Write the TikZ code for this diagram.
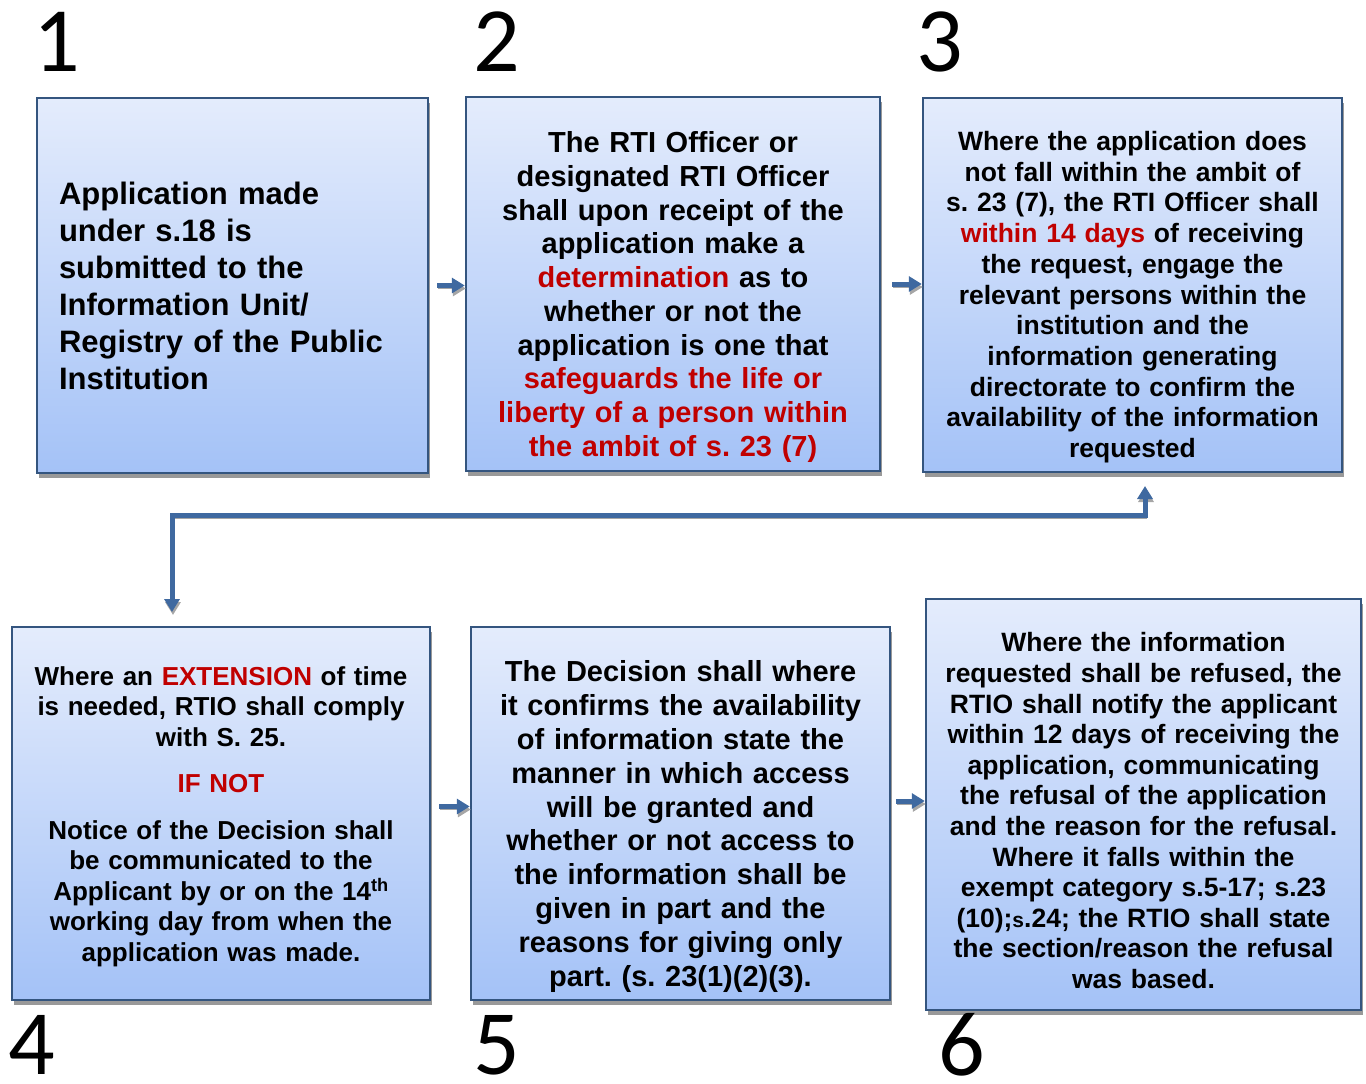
\documentclass[tikz,border=0pt]{standalone}
\usepackage{fontspec}
\setmainfont{Liberation Sans}
\newfontfamily\numfont{Carlito}
\usetikzlibrary{shadows,arrows.meta}
\definecolor{boxtop}{HTML}{E4ECFC}
\definecolor{boxbot}{HTML}{A4C2F7}
\definecolor{boxline}{HTML}{34557F}
\definecolor{flowblue}{HTML}{3F69A0}
\definecolor{keyred}{HTML}{C00000}
\newcommand{\hot}[1]{\textcolor{keyred}{#1}}
\newcommand{\lift}[1]{\rule{0pt}{#1}}
\frenchspacing

\begin{document}
\begin{tikzpicture}[x=1pt,y=-1pt,>={Triangle[length=13pt,width=15pt]},
    stage node/.style={draw=boxline,line width=2.5pt,top color=boxtop,bottom color=boxbot,align=center,inner sep=0pt,
        drop shadow={shadow xshift=2pt,shadow yshift=-5pt,fill=black!40,opacity=1}},
    num node/.style={font=\numfont\fontsize{92}{92}\selectfont,inner sep=0pt},
    flow/.style={->,line width=5pt,draw=flowblue,preaction={draw=black!35,transform canvas={xshift=1pt,yshift=-3pt}}}]
    \useasboundingbox (0,0) rectangle (1366,1084);

    % top row
    \node[stage node,minimum width=391pt,minimum height=375pt,text width=347pt,align=left,
        font=\bfseries\fontsize{31}{37}\selectfont] (b1) at (232.5,285.5)
        {Application made\\ under s.18 is\\ submitted to the\\ Information Unit/\\ Registry of the Public\\ Institution};
    \node[stage node,minimum width=414pt,minimum height=374pt,text width=400pt,
        font=\bfseries\fontsize{29}{33.7}\selectfont] (b2) at (673,284)
        {\lift{47pt}The RTI Officer or\\ designated RTI Officer\\ shall upon receipt of the\\ application make a\\
         \hot{determination} as to\\ whether or not the\\ application is one that\\
         \hot{safeguards the life or}\\ \hot{liberty of a person within}\\ \hot{the ambit of s. 23 (7)}};
    \node[stage node,minimum width=419pt,minimum height=374pt,text width=405pt,
        font=\bfseries\fontsize{26.5}{30.7}\selectfont] (b3) at (1132.5,285)
        {\lift{43.5pt}Where the application does\\ not fall within the ambit of\\ s. 23 (7), the RTI Officer shall\\
         \hot{within 14 days} of receiving\\ the request, engage the\\ relevant persons within the\\
         institution and the\\ information generating\\ directorate to confirm the\\
         availability of the information\\ requested};

    % bottom row
    \node[stage node,minimum width=418pt,minimum height=373pt,text width=404pt,
        font=\bfseries\fontsize{26}{30.5}\selectfont] (b4) at (221,813.5)
        {\lift{25pt}Where an \hot{EXTENSION} of time\\ is needed, RTIO shall comply\\ with S. 25.\\[16pt]
         \hot{IF NOT}\\[16pt]
         Notice of the Decision shall\\ be communicated to the\\ Applicant by or on the 14\textsuperscript{th}\\
         working day from when the\\ application was made.};
    \node[stage node,minimum width=419pt,minimum height=373pt,text width=405pt,
        font=\bfseries\fontsize{29}{33.8}\selectfont] (b5) at (680.5,813.5)
        {\lift{47pt}The Decision shall where\\ it confirms the availability\\ of information state the\\
         manner in which access\\ will be granted and\\ whether or not access to\\
         the information shall be\\ given in part and the\\ reasons for giving only\\ part. (s. 23(1)(2)(3).};
    \node[stage node,minimum width=435pt,minimum height=411pt,text width=421pt,
        font=\bfseries\fontsize{26.5}{30.6}\selectfont] (b6) at (1143.5,804.5)
        {\lift{31.5pt}Where the information\\ requested shall be refused, the\\ RTIO shall notify the applicant\\
         within 12 days of receiving the\\ application, communicating\\ the refusal of the application\\
         and the reason for the refusal.\\ Where it falls within the\\ exempt category s.5-17; s.23\\
         (10);{\fontsize{21}{30.6}\selectfont s}.24; the RTIO shall state\\ the section/reason the refusal\\ was based.};

    % step numbers
    \node[num node] (n1) at (57,42) {1};
    \node[num node] (n2) at (497,42) {2};
    \node[num node] (n3) at (940,42) {3};
    \node[num node] (n4) at (32,1045) {4};
    \node[num node] (n5) at (497,1045) {5};
    \node[num node] (n6) at (962,1045) {6};

    % arrows
    \draw[flow] ([xshift=8pt]b1.east) -- (b1.east -| b2.west);
    \draw[flow] ([xshift=11pt]b2.east) -- (b2.east -| b3.west);
    \draw[flow] ([xshift=8pt,yshift=7pt]b4.east) -- ([yshift=7pt]b5.west);
    \draw[flow] ([xshift=5pt,yshift=12.5pt]b5.east) -- ([yshift=3.5pt]b6.west);

    \coordinate (up) at (1145,486);
    \coordinate (down) at (172,612);
    \draw[flow,<->] (down) -- (172,515) -| (up);
\end{tikzpicture}
\end{document}
